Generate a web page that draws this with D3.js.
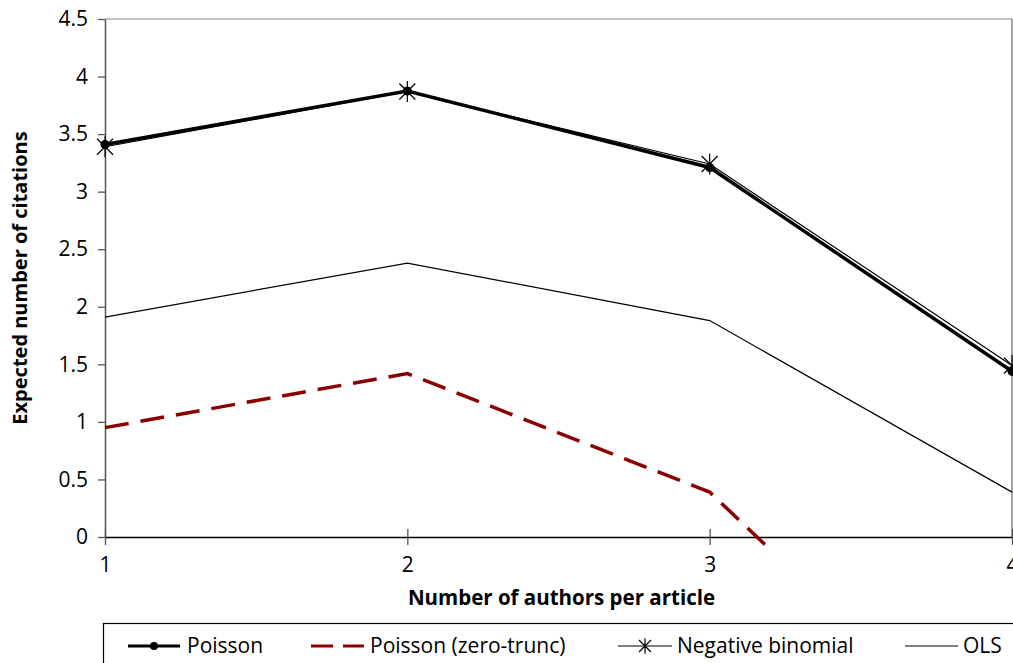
<!DOCTYPE html>
<html>
<head>
<meta charset="utf-8">
<script src="https://d3js.org/d3.v7.min.js"></script>
<style>
  body { margin: 0; background: #fff; }
  text { font-family: "Open Sans", sans-serif; fill: #000; }
</style>
</head>
<body>
<svg id="svg" width="1013" height="663"></svg>
<script>
  const authors = [1, 2, 3, 4]
  const poisson = [3.41, 3.875, 3.21, 1.44]
  const zeroTrunc = [0.95, 1.42, 0.39, -2.1]
  const negBinomial = [3.39, 3.87, 3.24, 1.49]
  const ols = [1.91, 2.38, 1.88, 0.39]
  const yTicks = [0, 0.5, 1, 1.5, 2, 2.5, 3, 3.5, 4, 4.5]

  const fontFam = '"Open Sans", sans-serif'
  let svg = d3.select('#svg')
  let plotLeft = 105, plotRight = 1012, plotTop = 19, plotBottom = 537

  let x = d3.scaleLinear().domain([1, 4]).range([plotLeft, plotRight])
  let y = d3.scaleLinear().domain([0, 4.5]).range([plotBottom, plotTop])

  // plot border: gray top + right
  svg.append('line').attr('x1', plotLeft).attr('x2', plotRight).attr('y1', plotTop).attr('y2', plotTop)
    .style('stroke', '#868686').style('stroke-width', 1)
  svg.append('line').attr('x1', plotRight).attr('x2', plotRight).attr('y1', plotTop).attr('y2', plotBottom)
    .style('stroke', '#868686').style('stroke-width', 1.5)

  // y axis
  let yAxis = svg.append('g').attr('transform', 'translate(' + plotLeft + ',0)')
    .call(d3.axisLeft(y).tickValues(yTicks).tickSize(7).tickSizeOuter(0).tickFormat(d => d))
  yAxis.select('.domain').style('stroke', '#555').style('stroke-width', 1.5)
  yAxis.selectAll('.tick line').style('stroke', '#555').style('stroke-width', 1.3)
  yAxis.selectAll('.tick text').attr('x', -17).style('font-size', '21px')
    .style('font-family', fontFam).style('fill', '#000')

  // x axis
  let xAxis = svg.append('g').attr('transform', 'translate(0,' + plotBottom + ')')
    .call(d3.axisBottom(x).tickValues(authors).tickSize(8).tickSizeOuter(0).tickFormat(d3.format('d')))
  xAxis.select('.domain').style('stroke', '#000').style('stroke-width', 1.5)
  xAxis.selectAll('.tick line').attr('y1', -8).attr('y2', 8).style('stroke', '#555').style('stroke-width', 1.3)
  xAxis.selectAll('.tick text').attr('y', 20).style('font-size', '21px')
    .style('font-family', fontFam).style('fill', '#000')

  // axis titles
  svg.append('text').attr('x', (plotLeft + plotRight) / 2 + 3).attr('y', 605)
    .attr('text-anchor', 'middle').style('font-weight', 'bold').style('font-size', '20.5px')
    .text('Number of authors per article')
  svg.append('text').attr('transform', 'translate(27,' + 278 + ') rotate(-90)')
    .attr('text-anchor', 'middle').style('font-weight', 'bold').style('font-size', '20px')
    .text('Expected number of citations')

  svg.append('clipPath').attr('id', 'plotClip')
    .append('rect').attr('x', plotLeft - 20).attr('y', 0).attr('width', plotRight - plotLeft + 40).attr('height', 546)

  let lineFunc = d3.line().x((d, i) => x(authors[i])).y(d => y(d))
  let plot = svg.append('g').attr('clip-path', 'url(#plotClip)')

  // Poisson
  plot.append('path').attr('d', lineFunc(poisson))
    .style('fill', 'none').style('stroke', '#000').style('stroke-width', 3.5)
  plot.selectAll('circle.poisson').data(poisson).enter().append('circle')
    .attr('class', 'poisson')
    .attr('cx', (d, i) => x(authors[i])).attr('cy', d => y(d)).attr('r', 4.5)
    .style('fill', '#000')

  // Poisson zero-truncated
  plot.append('path').attr('d', lineFunc(zeroTrunc))
    .style('fill', 'none').style('stroke', '#8B0000').style('stroke-width', 3.5)
    .style('stroke-dasharray', '24,12')

  // Negative binomial
  plot.append('path').attr('d', lineFunc(negBinomial))
    .style('fill', 'none').style('stroke', '#000').style('stroke-width', 1.2)
  function star(g, cx, cy, s) {
    g.append('path')
      .attr('d', 'M' + (cx - s) + ',' + (cy - s) + 'L' + (cx + s) + ',' + (cy + s) +
                 'M' + (cx - s) + ',' + (cy + s) + 'L' + (cx + s) + ',' + (cy - s) +
                 'M' + cx + ',' + (cy - s * 1.3) + 'L' + cx + ',' + (cy + s * 1.3))
      .style('stroke', '#000').style('stroke-width', 1.2).style('fill', 'none')
  }
  negBinomial.forEach((d, i) => star(plot, x(authors[i]), y(d), 8))

  // OLS
  plot.append('path').attr('d', lineFunc(ols))
    .style('fill', 'none').style('stroke', '#000').style('stroke-width', 1.2)

  // legend
  let leg = svg.append('g')
  leg.append('rect').attr('x', 103.5).attr('y', 623.5).attr('width', 1000).attr('height', 60)
    .style('fill', '#fff').style('stroke', '#000').style('stroke-width', 1.2)
  let ly = 646
  leg.append('line').attr('x1', 128).attr('x2', 180).attr('y1', ly).attr('y2', ly)
    .style('stroke', '#000').style('stroke-width', 3)
  leg.append('circle').attr('cx', 154).attr('cy', ly).attr('r', 4).style('fill', '#000')
  leg.append('text').attr('x', 187).attr('y', ly + 7).style('font-size', '21px').text('Poisson')

  leg.append('line').attr('x1', 311).attr('x2', 364).attr('y1', ly).attr('y2', ly)
    .style('stroke', '#8B0000').style('stroke-width', 3).style('stroke-dasharray', '22,10')
  leg.append('text').attr('x', 370).attr('y', ly + 7).style('font-size', '21px').text('Poisson (zero-trunc)')

  leg.append('line').attr('x1', 618).attr('x2', 672).attr('y1', ly).attr('y2', ly)
    .style('stroke', '#000').style('stroke-width', 1.2)
  star(leg, 645, ly, 6)
  leg.append('text').attr('x', 677).attr('y', ly + 7).style('font-size', '21px').text('Negative binomial')

  leg.append('line').attr('x1', 905).attr('x2', 958).attr('y1', ly).attr('y2', ly)
    .style('stroke', '#000').style('stroke-width', 1.2)
  leg.append('text').attr('x', 963).attr('y', ly + 7).style('font-size', '21px').text('OLS')
</script>
</body>
</html>
